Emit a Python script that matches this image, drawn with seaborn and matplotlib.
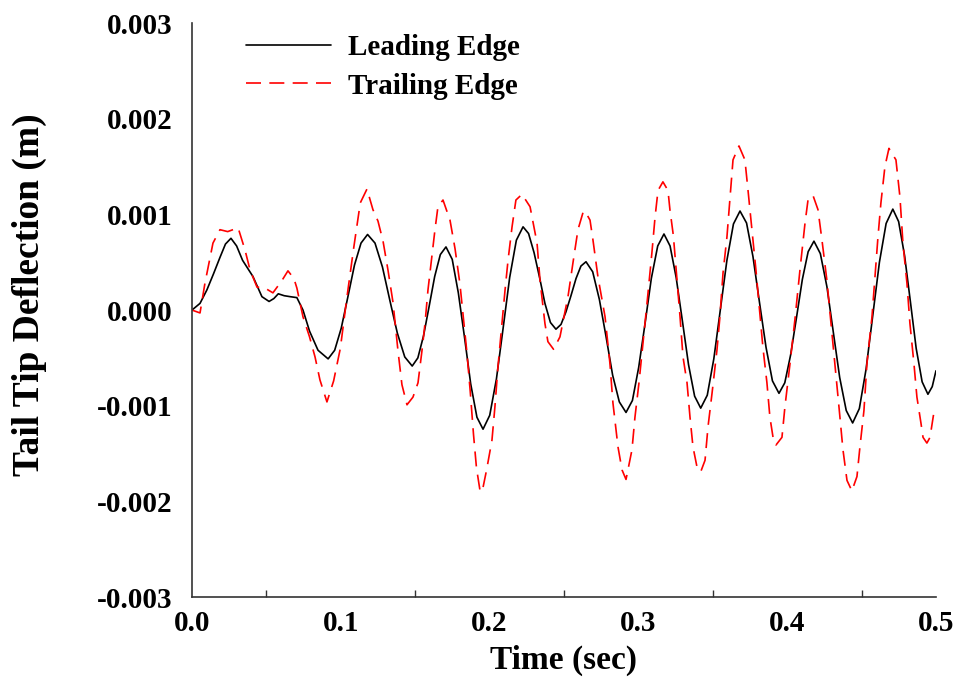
import numpy as np
import pandas as pd
import matplotlib
matplotlib.use("Agg")
import matplotlib.pyplot as plt
from matplotlib.ticker import MultipleLocator, FixedLocator
import seaborn as sns

# ---------------- data (deflection values in units of 1e-3 m) ----------------
lead_t = [0.000, 0.0054, 0.010, 0.0145, 0.0188, 0.0225, 0.0262, 0.030, 0.034, 0.041,
          0.047, 0.0518, 0.055, 0.058, 0.062, 0.066, 0.0705, 0.0746, 0.079, 0.0847,
          0.0915, 0.0959, 0.1003, 0.1048, 0.1092, 0.1136, 0.118, 0.123, 0.128, 0.133,
          0.138, 0.143, 0.148, 0.1518, 0.1556, 0.1594, 0.1631, 0.1669, 0.1707, 0.1749,
          0.1790, 0.1832, 0.1873, 0.1915, 0.1956, 0.2001, 0.2046, 0.2091, 0.2135, 0.2180,
          0.2225, 0.2262, 0.2299, 0.2336, 0.2372, 0.2409, 0.2446, 0.2480, 0.2513, 0.2547,
          0.2581, 0.2614, 0.2648, 0.2693, 0.2738, 0.2783, 0.2827, 0.2872, 0.2917, 0.2960,
          0.3002, 0.3045, 0.3087, 0.3130, 0.3172, 0.3213, 0.3254, 0.3296, 0.3337, 0.3378,
          0.3419, 0.3463, 0.3507, 0.3551, 0.3595, 0.3639, 0.3683, 0.3727, 0.3770, 0.3814,
          0.3858, 0.3901, 0.3945, 0.3984, 0.4023, 0.4063, 0.4102, 0.4141, 0.418, 0.4223,
          0.4267, 0.4310, 0.4353, 0.4397, 0.444, 0.4485, 0.453, 0.4575, 0.462, 0.4665,
          0.471, 0.4749, 0.4789, 0.4828, 0.4867, 0.4907, 0.4946, 0.4975, 0.500]
lead_mm = [0.00, 0.07, 0.21, 0.38, 0.55, 0.69, 0.75, 0.67, 0.52, 0.35,
           0.14, 0.09, 0.12, 0.17, 0.15, 0.14, 0.13, 0.00, -0.22, -0.42,
           -0.51, -0.42, -0.19, 0.14, 0.47, 0.70, 0.79, 0.70, 0.45, 0.10,
           -0.24, -0.49, -0.585, -0.50, -0.27, 0.04, 0.35, 0.58, 0.66, 0.53,
           0.18, -0.29, -0.77, -1.12, -1.245, -1.10, -0.72, -0.19, 0.34, 0.73,
           0.87, 0.80, 0.60, 0.34, 0.07, -0.13, -0.20, -0.15, -0.02, 0.15,
           0.33, 0.46, 0.505, 0.40, 0.11, -0.28, -0.68, -0.96, -1.07, -0.945,
           -0.60, -0.14, 0.33, 0.67, 0.795, 0.67, 0.34, -0.115, -0.57, -0.90,
           -1.025, -0.89, -0.51, 0.005, 0.52, 0.90, 1.035, 0.91, 0.56, 0.08,
           -0.39, -0.74, -0.87, -0.76, -0.47, -0.075, 0.32, 0.61, 0.72, 0.59,
           0.245, -0.23, -0.705, -1.05, -1.18, -1.03, -0.62, -0.06, 0.50, 0.905,
           1.055, 0.925, 0.57, 0.09, -0.40, -0.75, -0.88, -0.80, -0.635]

trail_t = [0.000, 0.0054, 0.0087, 0.0141, 0.0188, 0.0240, 0.031, 0.0356, 0.039, 0.0437,
           0.049, 0.0544, 0.0605, 0.0645, 0.0685, 0.0705, 0.0746, 0.079, 0.0827, 0.086,
           0.0907, 0.0952, 0.0997, 0.1041, 0.1086, 0.1131, 0.1176, 0.1216, 0.125, 0.1284,
           0.1317, 0.1351, 0.1384, 0.1411, 0.1445, 0.1485, 0.1519, 0.1546, 0.1566, 0.1586,
           0.1633, 0.1653, 0.1687, 0.1734, 0.1768, 0.1801, 0.1825, 0.1848, 0.1870, 0.1892,
           0.1912, 0.1935, 0.1950, 0.1980, 0.2016, 0.2036, 0.2056, 0.2083, 0.2104, 0.2124,
           0.2151, 0.2177, 0.2218, 0.2272, 0.2319, 0.2339, 0.2372, 0.2392, 0.2430, 0.2473,
           0.2527, 0.2560, 0.2594, 0.2628, 0.2641, 0.2675, 0.2695, 0.2728, 0.2776, 0.2809,
           0.2829, 0.2863, 0.2890, 0.2917, 0.2957, 0.2977, 0.3004, 0.3031, 0.3058, 0.3091,
           0.3112, 0.3132, 0.3165, 0.3199, 0.3212, 0.3235, 0.3260, 0.3280, 0.3300, 0.3327,
           0.3347, 0.3367, 0.3394, 0.3419, 0.3448, 0.3468, 0.3495, 0.3528, 0.3548, 0.3569,
           0.3595, 0.3616, 0.3636, 0.3676, 0.3716, 0.3737, 0.3763, 0.3790, 0.3810, 0.3837,
           0.3864, 0.3884, 0.3905, 0.3925, 0.3965, 0.3985, 0.4019, 0.4052, 0.4086, 0.4120,
           0.4140, 0.4173, 0.4207, 0.4234, 0.4267, 0.4288, 0.4321, 0.4348, 0.4375, 0.4402,
           0.4435, 0.4469, 0.4489, 0.4516, 0.4536, 0.4570, 0.4590, 0.4610, 0.4630, 0.4657,
           0.4684, 0.4731, 0.4758, 0.4778, 0.4805, 0.4825, 0.4852, 0.4872, 0.4899, 0.4913,
           0.4939, 0.4960, 0.4987]
trail_mm = [0.00, -0.03, 0.28, 0.70, 0.84, 0.82, 0.86, 0.63, 0.42, 0.24,
            0.23, 0.18, 0.31, 0.41, 0.33, 0.23, -0.07, -0.28, -0.49, -0.73,
            -0.96, -0.74, -0.40, 0.13, 0.64, 1.12, 1.265, 1.05, 0.93, 0.72,
            0.42, 0.08, -0.42, -0.78, -0.99, -0.91, -0.76, -0.42, -0.14, 0.21,
            0.84, 1.08, 1.15, 0.94, 0.64, 0.27, -0.10, -0.45, -0.85, -1.30,
            -1.65, -1.88, -1.90, -1.67, -1.36, -1.01, -0.60, -0.14, 0.21, 0.52,
            0.87, 1.15, 1.21, 1.08, 0.70, 0.31, -0.14, -0.33, -0.41, -0.28,
            0.14, 0.49, 0.84, 1.02, 1.035, 0.94, 0.73, 0.35, -0.07, -0.56,
            -0.97, -1.43, -1.67, -1.77, -1.46, -1.12, -0.76, -0.35, 0.07, 0.60,
            0.97, 1.25, 1.34, 1.25, 1.05, 0.78, 0.31, -0.07, -0.49, -0.76,
            -1.12, -1.43, -1.64, -1.69, -1.57, -1.22, -0.87, -0.42, -0.07, 0.39,
            0.76, 1.18, 1.57, 1.715, 1.57, 1.25, 0.84, 0.42, 0.07, -0.39,
            -0.76, -1.12, -1.33, -1.41, -1.33, -1.01, -0.56, -0.10, 0.42, 0.91,
            1.15, 1.20, 1.05, 0.73, 0.31, -0.03, -0.56, -1.01, -1.46, -1.78,
            -1.89, -1.74, -1.43, -1.05, -0.56, -0.07, 0.35, 0.76, 1.12, 1.50,
            1.69, 1.57, 1.18, 0.70, 0.28, -0.14, -0.56, -0.91, -1.18, -1.33,
            -1.39, -1.33, -1.06]

series_names = ["Leading Edge", "Trailing Edge"]
x_ticks = [0.0, 0.1, 0.2, 0.3, 0.4, 0.5]
x_tick_labels = ["0.0", "0.1", "0.2", "0.3", "0.4", "0.5"]
y_ticks = [-0.003, -0.002, -0.001, 0.0, 0.001, 0.002, 0.003]
y_tick_labels = ["-0.003", "-0.002", "-0.001", "0.000", "0.001", "0.002", "0.003"]
x_label = "Time (sec)"
y_label = "Tail Tip Deflection (m)"

# ---------------- build table ----------------
df = pd.concat([
    pd.DataFrame({"t": lead_t, "d": np.array(lead_mm) * 1e-3, "s": series_names[0]}),
    pd.DataFrame({"t": trail_t, "d": np.array(trail_mm) * 1e-3, "s": series_names[1]}),
], ignore_index=True)

sns.set_theme(style="white")
plt.rcParams["font.family"] = ["Liberation Serif", "DejaVu Serif"]
plt.rcParams["font.weight"] = "bold"
plt.rcParams["text.color"] = "black"
plt.rcParams["axes.labelcolor"] = "black"

fig = plt.figure(figsize=(9.58, 6.77), dpi=100)
ax = fig.add_axes([0.2004, 0.118, 0.7766, 0.848])

sns.lineplot(data=df, x="t", y="d", hue="s", style="s",
             palette={series_names[0]: "black", series_names[1]: "#ff0000"},
             dashes={series_names[0]: "", series_names[1]: (9, 5)},
             sort=False, estimator=None, linewidth=1.2, ax=ax, legend=True)

ax.set_xlim(0, 0.5)
ax.set_ylim(-0.003, 0.003)
ax.xaxis.set_major_locator(FixedLocator(x_ticks))
ax.set_xticklabels(x_tick_labels)
ax.xaxis.set_minor_locator(MultipleLocator(0.05))
ax.yaxis.set_major_locator(FixedLocator(y_ticks))
ax.set_yticklabels(y_tick_labels)

for side in ["top", "right"]:
    ax.spines[side].set_visible(False)
for side in ["left", "bottom"]:
    ax.spines[side].set_color("#333333")
    ax.spines[side].set_linewidth(1.2)

ax.tick_params(axis="both", which="major", direction="in", length=7, width=1.0,
               color="#333333", labelsize=21, labelcolor="black")
ax.tick_params(axis="x", which="major", pad=9)
ax.tick_params(axis="y", which="major", pad=14)
ax.tick_params(axis="x", which="minor", direction="in", length=5, width=1.0,
               color="#333333", bottom=True)
for lab in ax.get_xticklabels() + ax.get_yticklabels():
    lab.set_fontweight("bold")

ax.set_xlabel(x_label, fontsize=24, fontweight="bold", color="black", labelpad=6)
ax.set_ylabel(y_label, fontsize=27, fontweight="bold", color="black")
ax.yaxis.set_label_coords(-0.195, 0.526)

leg = ax.legend(loc="upper left", bbox_to_anchor=(0.073, 0.981), frameon=False,
                fontsize=21, handlelength=2.9, handletextpad=0.6,
                labelspacing=0.4, borderpad=0.0, borderaxespad=0.0)
for txt in leg.get_texts():
    txt.set_fontweight("bold")
    txt.set_color("black")

fig.savefig("out.png", dpi=100)
